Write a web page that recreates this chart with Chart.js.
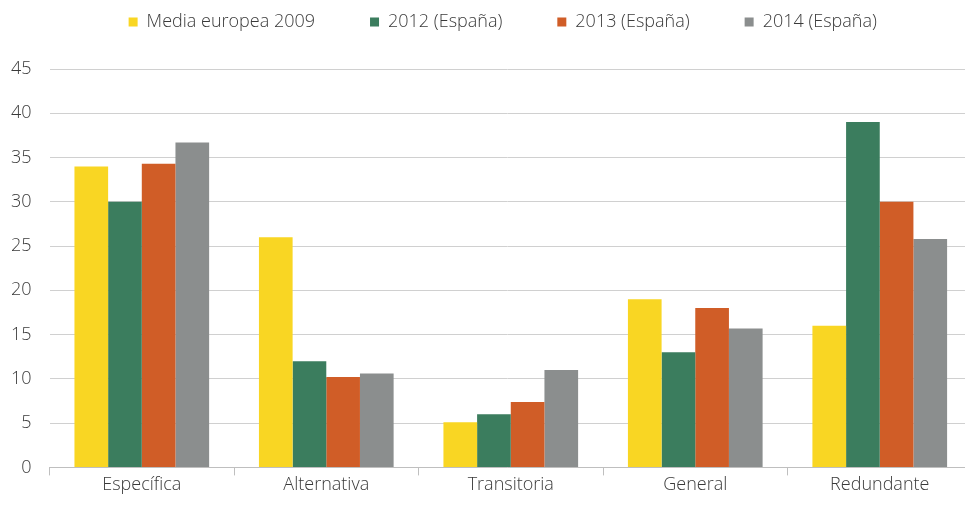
<!DOCTYPE html>
<html>
<head>
<meta charset="utf-8">
<script src="https://cdn.jsdelivr.net/npm/chart.js@4.4.1/dist/chart.umd.min.js"></script>
<style>
html,body{margin:0;padding:0;background:#fff;}
#wrap{width:965px;height:514px;overflow:hidden;}
</style>
</head>
<body>
<div id="wrap"><canvas id="c" width="965" height="514"></canvas></div>
<script>
const categories = ["Específica", "Alternativa", "Transitoria", "General", "Redundante"];
const seriesNames = ["Media europea 2009", "2012 (España)", "2013 (España)", "2014 (España)"];
const media2009 = [34, 26, 5.1, 19, 16];
const espana2012 = [30, 12, 6, 13, 39];
const espana2013 = [34.3, 10.2, 7.4, 18, 30];
const espana2014 = [36.7, 10.6, 11, 15.7, 25.8];
const yTicks = [0, 5, 10, 15, 20, 25, 30, 35, 40, 45];

const colors = ["#F9D623", "#3B7D5E", "#D05D27", "#8B8E8E"];
const allSeries = [media2009, espana2012, espana2013, espana2014];

const FONT = "'Open Sans', 'Noto Sans', sans-serif";
const TEXT = '#3a3a3a';

const layoutTweak = {
  id: 'layoutTweak',
  beforeInit(chart) {
    const origFit = chart.legend.fit;
    chart.legend.fit = function () {
      origFit.call(this);
      this.height += 28;
    };
  },
  afterLayout(chart) {
    chart.legend.left = chart.chartArea.left - 9;
    // the category axis runs a little past the right edge of the picture
    const x = chart.scales.x;
    x.right += 7;
    x.width += 7;
    x.configure();
  }
};

new Chart(document.getElementById('c'), {
  type: 'bar',
  data: {
    labels: categories,
    datasets: allSeries.map((d, i) => ({
      label: seriesNames[i],
      data: d,
      backgroundColor: colors[i],
      borderWidth: 0,
      barPercentage: 1.0,
      categoryPercentage: 0.73
    }))
  },
  plugins: [layoutTweak],
  options: {
    responsive: false,
    animation: false,
    devicePixelRatio: 1,
    layout: { padding: { left: -7, right: 0, top: -42, bottom: 19 } },
    plugins: {
      legend: {
        display: true,
        position: 'top',
        labels: {
          boxWidth: 9,
          boxHeight: 9,
          padding: 55,
          color: TEXT,
          font: { family: FONT, size: 18, weight: 300 }
        }
      },
      tooltip: { enabled: false }
    },
    scales: {
      x: {
        offset: true,
        grid: {
          display: true,
          drawOnChartArea: false,
          drawTicks: true,
          tickLength: 8,
          color: '#bfbfbf',
          offset: true
        },
        border: { display: true, color: '#bfbfbf', width: 1 },
        ticks: {
          color: TEXT,
          font: { family: FONT, size: 18, weight: 300 },
          padding: -1
        }
      },
      y: {
        min: 0,
        max: 45,
        afterBuildTicks: (axis) => { axis.ticks = yTicks.map(v => ({ value: v })); },
        grid: {
          color: '#d0d0d0',
          lineWidth: 1,
          drawTicks: false
        },
        border: { display: false },
        ticks: {
          color: TEXT,
          font: { family: FONT, size: 18, weight: 300 },
          padding: 18
        }
      }
    }
  }
});
</script>
</body>
</html>
